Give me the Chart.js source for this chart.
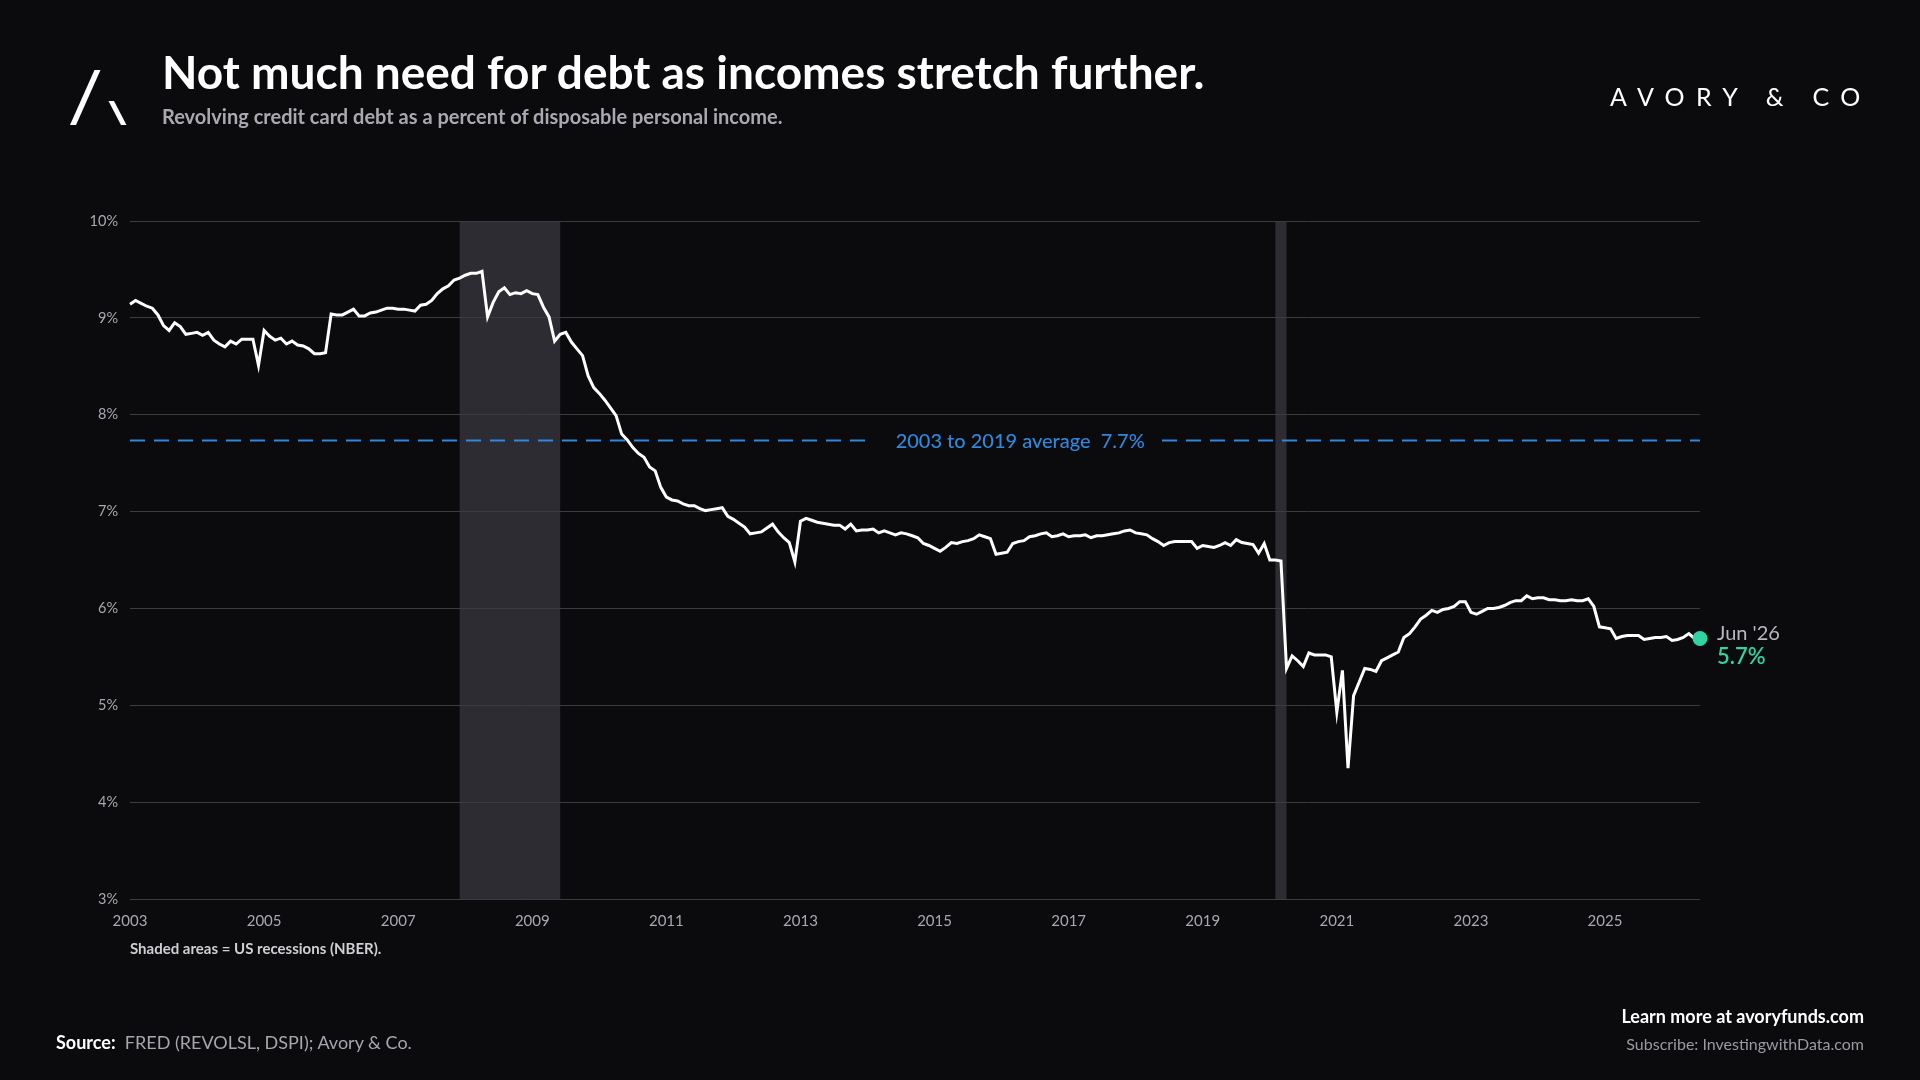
<!DOCTYPE html>
<html>
<head>
<meta charset="utf-8">
<script src="https://cdn.jsdelivr.net/npm/chart.js@4.4.0/dist/chart.umd.min.js"></script>
<style>
html,body{margin:0;padding:0;background:#0b0b0d;width:1920px;height:1080px;overflow:hidden;font-family:Lato,"Noto Sans",sans-serif;}
#wrap{position:relative;width:1920px;height:1080px;}
#c{position:absolute;left:0;top:0;width:1920px;height:1080px;}
.t{position:absolute;white-space:nowrap;line-height:1;font-family:Lato,"Noto Sans",sans-serif;}
</style>
</head>
<body>
<div id="wrap">
  <canvas id="c" width="1920" height="1080"></canvas>
  <svg style="position:absolute;left:0;top:0" width="140" height="140">
    <polygon points="94.5,70 100.5,70 76,125 70,125" fill="#ffffff"/>
    <polygon points="108.5,101 114,101 126.5,125 121,125" fill="#ffffff"/>
  </svg>
  <div class="t" style="left:162px;top:49px;font-size:46px;font-weight:700;color:#ffffff;">Not much need for debt as incomes stretch further.</div>
  <div class="t" style="left:162px;top:105.5px;font-size:20px;font-weight:700;color:#a9a9b1;">Revolving credit card debt as a percent of disposable personal income.</div>
  <div class="t" style="left:1610px;top:84px;font-size:25px;font-weight:400;color:#ffffff;letter-spacing:11.3px;">AVORY &amp; CO</div>
  <div class="t" style="left:130px;top:941px;font-size:15px;font-weight:700;color:#cfcfd4;">Shaded areas = US recessions (NBER).</div>
  <div class="t" style="left:56px;top:1033px;font-size:18px;color:#a6a6ae;"><span style="font-weight:700;color:#ffffff;">Source:</span>&nbsp; FRED (REVOLSL, DSPI); Avory &amp; Co.</div>
  <div class="t" style="right:56px;top:1007px;font-size:18px;font-weight:700;color:#ffffff;">Learn more at avoryfunds.com</div>
  <div class="t" style="right:56px;top:1036px;font-size:16px;font-weight:400;color:#9a9aa2;">Subscribe: InvestingwithData.com</div>
</div>
<script>
// ---- DATA ----
const startYear = 2003;            // series begins January 2003, monthly
const debtPct = [
  // 2003
  9.14, 9.18, 9.15, 9.12, 9.10, 9.03, 8.92, 8.87, 8.95, 8.91, 8.83, 8.84,
  // 2004
  8.85, 8.82, 8.85, 8.77, 8.73, 8.70, 8.76, 8.73, 8.78, 8.78, 8.78, 8.51,
  // 2005
  8.87, 8.81, 8.77, 8.79, 8.73, 8.76, 8.72, 8.71, 8.68, 8.63, 8.63, 8.64,
  // 2006
  9.04, 9.03, 9.03, 9.06, 9.09, 9.02, 9.02, 9.05, 9.06, 9.08, 9.10, 9.10,
  // 2007
  9.09, 9.09, 9.08, 9.07, 9.13, 9.14, 9.18, 9.25, 9.30, 9.33, 9.39, 9.41,
  // 2008
  9.44, 9.46, 9.46, 9.48, 9.01, 9.16, 9.27, 9.31, 9.24, 9.26, 9.25, 9.28,
  // 2009
  9.25, 9.24, 9.11, 9.01, 8.76, 8.83, 8.85, 8.75, 8.68, 8.61, 8.40, 8.28,
  // 2010
  8.22, 8.15, 8.07, 7.99, 7.80, 7.74, 7.66, 7.60, 7.56, 7.46, 7.42, 7.25,
  // 2011
  7.15, 7.12, 7.11, 7.08, 7.06, 7.06, 7.03, 7.01, 7.02, 7.03, 7.04, 6.95,
  // 2012
  6.92, 6.88, 6.84, 6.77, 6.78, 6.79, 6.83, 6.87, 6.79, 6.73, 6.68, 6.48,
  // 2013
  6.90, 6.93, 6.91, 6.89, 6.88, 6.87, 6.86, 6.86, 6.82, 6.87, 6.80, 6.81,
  // 2014
  6.81, 6.82, 6.78, 6.80, 6.78, 6.76, 6.78, 6.77, 6.75, 6.73, 6.67, 6.65,
  // 2015
  6.62, 6.59, 6.63, 6.68, 6.67, 6.69, 6.70, 6.72, 6.76, 6.74, 6.72, 6.56,
  // 2016
  6.57, 6.58, 6.67, 6.69, 6.70, 6.74, 6.75, 6.77, 6.78, 6.74, 6.75, 6.77,
  // 2017
  6.74, 6.75, 6.75, 6.76, 6.73, 6.75, 6.75, 6.76, 6.77, 6.78, 6.80, 6.81,
  // 2018
  6.78, 6.77, 6.76, 6.72, 6.69, 6.65, 6.68, 6.69, 6.69, 6.69, 6.69, 6.62,
  // 2019
  6.65, 6.64, 6.63, 6.65, 6.68, 6.65, 6.71, 6.68, 6.67, 6.66, 6.57, 6.67,
  // 2020
  6.50, 6.50, 6.49, 5.38, 5.51, 5.46, 5.40, 5.54, 5.52, 5.52, 5.52, 5.50,
  // 2021
  4.93, 5.36, 4.35, 5.10, 5.24, 5.38, 5.37, 5.35, 5.46, 5.49, 5.52, 5.55,
  // 2022
  5.70, 5.74, 5.81, 5.89, 5.93, 5.98, 5.96, 5.99, 6.00, 6.02, 6.07, 6.07,
  // 2023
  5.96, 5.94, 5.97, 6.00, 6.00, 6.01, 6.03, 6.06, 6.08, 6.08, 6.13, 6.10,
  // 2024
  6.11, 6.11, 6.09, 6.09, 6.08, 6.08, 6.09, 6.08, 6.08, 6.10, 6.02, 5.81,
  // 2025
  5.80, 5.79, 5.69, 5.71, 5.72, 5.72, 5.72, 5.68, 5.69, 5.70, 5.70, 5.71,
  // 2026
  5.67, 5.68, 5.70, 5.74, 5.69, 5.69
];
const recessionStarts = ["2007-12", "2020-02"];
const recessionEnds   = ["2009-06", "2020-04"];
const averageValue = 7.74;
const averageText = "2003 to 2019 average";
const xTickYears = [2003, 2005, 2007, 2009, 2011, 2013, 2015, 2017, 2019, 2021, 2023, 2025];
const yTickValues = [3, 4, 5, 6, 7, 8, 9, 10];
const monthNames = ["Jan","Feb","Mar","Apr","May","Jun","Jul","Aug","Sep","Oct","Nov","Dec"];

// ---- helpers ----
const ymToX = s => { const [y, m] = s.split("-").map(Number); return y + (m - 1) / 12; };
const points = debtPct.map((v, i) => ({ x: startYear + i / 12, y: v }));
const lastIdx = points.length - 1;
const lastX = points[lastIdx].x;

const TEAL = "#2fd4a2";
const BLUE = "#2f88dc";
const TICK = "#a8a8b0";

const overlay = {
  id: "overlay",
  beforeDraw(chart) {
    const { ctx, chartArea: a, scales: { x } } = chart;
    ctx.save();
    ctx.fillStyle = "#2c2c32";
    recessionStarts.forEach((s, i) => {
      const x0 = x.getPixelForValue(ymToX(s));
      const x1 = x.getPixelForValue(ymToX(recessionEnds[i]));
      ctx.fillRect(x0, a.top, x1 - x0, a.bottom - a.top);
    });
    ctx.restore();
  },
  beforeDatasetsDraw(chart) {
    const { ctx, chartArea: a, scales: { y } } = chart;
    const py = Math.round(y.getPixelForValue(averageValue)) + 0.5;
    const label = averageText + "  " + averageValue.toFixed(1) + "%";
    ctx.save();
    ctx.font = "500 20px Lato";
    const tw = ctx.measureText(label).width;
    const cx = a.left + (a.right - a.left) * 0.567;
    const tl = cx - tw / 2, tr = cx + tw / 2;
    const period = 24;
    ctx.strokeStyle = BLUE;
    ctx.lineWidth = 2;
    ctx.setLineDash([15, 9]);
    ctx.lineDashOffset = 0;
    ctx.beginPath();
    ctx.moveTo(a.left, py);
    ctx.lineTo(tl - 28, py);
    ctx.stroke();
    const rs = tr + 16;
    ctx.lineDashOffset = (rs - a.left) % period;
    ctx.beginPath();
    ctx.moveTo(rs, py);
    ctx.lineTo(a.right, py);
    ctx.stroke();
    ctx.setLineDash([]);
    ctx.fillStyle = BLUE;
    ctx.textBaseline = "middle";
    ctx.textAlign = "left";
    ctx.fillText(label, tl, py + 1);
    ctx.restore();
  },
  afterDatasetsDraw(chart) {
    const { ctx } = chart;
    const el = chart.getDatasetMeta(0).data[lastIdx];
    const yr = Math.floor(lastX + 1e-6);
    const mo = Math.round((lastX - yr) * 12);
    ctx.save();
    ctx.textAlign = "left";
    ctx.textBaseline = "alphabetic";
    ctx.font = "400 20px Lato";
    ctx.fillStyle = "#b8b8c0";
    ctx.fillText(monthNames[mo] + " '" + String(yr).slice(2), el.x + 17, el.y + 1.5);
    ctx.font = "600 22px Lato";
    ctx.fillStyle = TEAL;
    ctx.fillText(debtPct[lastIdx].toFixed(1) + "%", el.x + 17, el.y + 25.5);
    ctx.restore();
  }
};

new Chart(document.getElementById("c").getContext("2d"), {
  type: "line",
  data: {
    datasets: [{
      data: points,
      borderColor: "#ffffff",
      borderWidth: 3,
      tension: 0,
      fill: false,
      clip: false,
      pointRadius: c => (c.dataIndex === lastIdx ? 7.5 : 0),
      pointHoverRadius: 0,
      pointBackgroundColor: TEAL,
      pointBorderWidth: 0
    }]
  },
  options: {
    responsive: false,
    animation: false,
    devicePixelRatio: 1,
    layout: { padding: { left: 70, top: 221, right: 220, bottom: 141 } },
    scales: {
      x: {
        type: "linear",
        min: startYear,
        max: lastX,
        grid: { display: false, drawTicks: false },
        border: { display: false },
        afterBuildTicks: s => { s.ticks = xTickYears.map(v => ({ value: v })); },
        afterFit: s => { s.height = 40; },
        ticks: {
          color: TICK,
          font: { family: "Lato", size: 15 },
          padding: 13,
          maxRotation: 0,
          autoSkip: false,
          callback: v => String(v)
        }
      },
      y: {
        min: 3,
        max: 10,
        afterBuildTicks: s => { s.ticks = yTickValues.map(v => ({ value: v })); },
        afterFit: s => { s.width = 60; },
        grid: { color: "#3b3b42", lineWidth: 1, drawTicks: false },
        border: { display: false },
        ticks: {
          color: TICK,
          font: { family: "Lato", size: 14.5 },
          padding: 12,
          callback: v => v + "%"
        }
      }
    },
    plugins: { legend: { display: false }, tooltip: { enabled: false } }
  },
  plugins: [overlay]
});
</script>
</body>
</html>
